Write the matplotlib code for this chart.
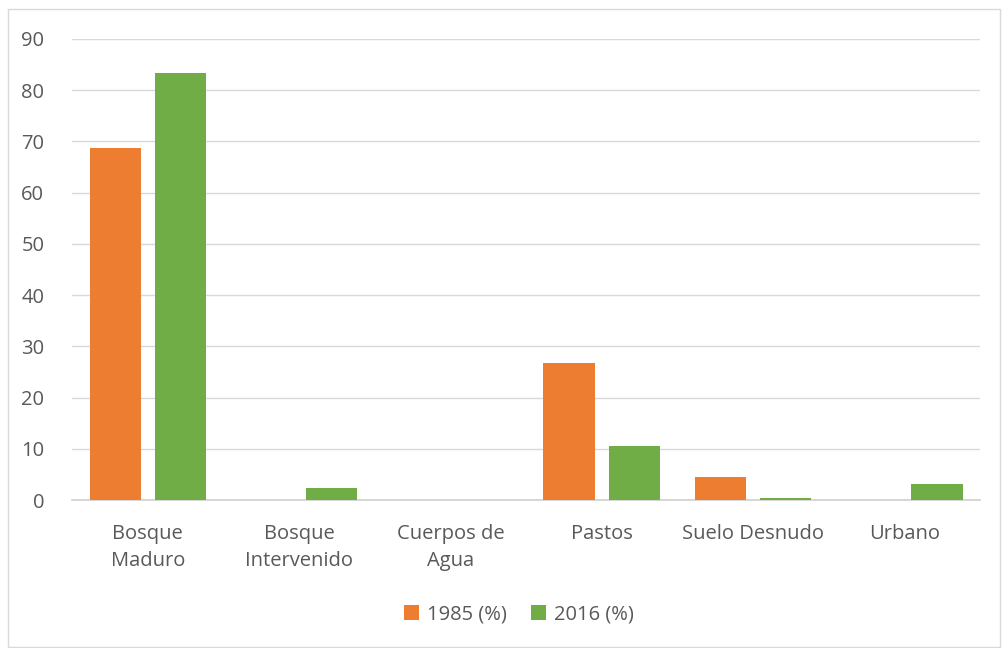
import numpy as np
import matplotlib.pyplot as plt
from matplotlib.patches import Rectangle

plt.rcParams['font.family'] = ['Open Sans', 'DejaVu Sans']

categorias = ['Bosque\nMaduro', 'Bosque\nIntervenido', 'Cuerpos de\nAgua', 'Pastos', 'Suelo Desnudo', 'Urbano']
valores_1985 = [68.8, 0.0, 0.0, 26.8, 4.5, 0.0]
valores_2016 = [83.4, 2.3, 0.1, 10.5, 0.4, 3.1]
ticks_y = [0, 10, 20, 30, 40, 50, 60, 70, 80, 90]

gris = '#595959'
naranja = '#ED7D31'
verde = '#70AD47'

fig = plt.figure(figsize=(10.02, 6.48), dpi=100)
ax = fig.add_axes([0.072, 0.228, 0.906, 0.712])

# borde exterior del gráfico
fig.patches.append(Rectangle((0.008, 0.002), 0.99, 0.984, transform=fig.transFigure,
                             fill=False, edgecolor='#d9d9d9', linewidth=1))

x = np.arange(len(categorias))
w = 0.34
ax.bar(x - w / 2 - 0.045, valores_1985, w, color=naranja, label='1985 (%)', zorder=3)
ax.bar(x + w / 2 + 0.045, valores_2016, w, color=verde, label='2016 (%)', zorder=3)

ax.set_xlim(-0.5, len(categorias) - 0.5)
ax.set_ylim(0, 90)
ax.set_yticks(ticks_y)
ax.set_xticks(x)
ax.set_xticklabels(categorias, fontsize=14.5, color=gris, linespacing=1.45)
ax.tick_params(axis='y', labelsize=14.5, labelcolor=gris, length=0, pad=20)
ax.tick_params(axis='x', length=0, pad=17)
ax.grid(axis='y', color='#d9d9d9', linewidth=1, zorder=0)
for s in ['top', 'right', 'left']:
    ax.spines[s].set_visible(False)
ax.spines['bottom'].set_color('#d0d0d0')
ax.spines['bottom'].set_linewidth(1.2)

fig.legend(loc='center', bbox_to_anchor=(0.518, 0.052), ncol=2, frameon=False,
           fontsize=14.5, labelcolor=gris, handlelength=0.75, handleheight=0.75,
           handletextpad=0.4, columnspacing=1.2)

fig.savefig('out.png', dpi=100)
